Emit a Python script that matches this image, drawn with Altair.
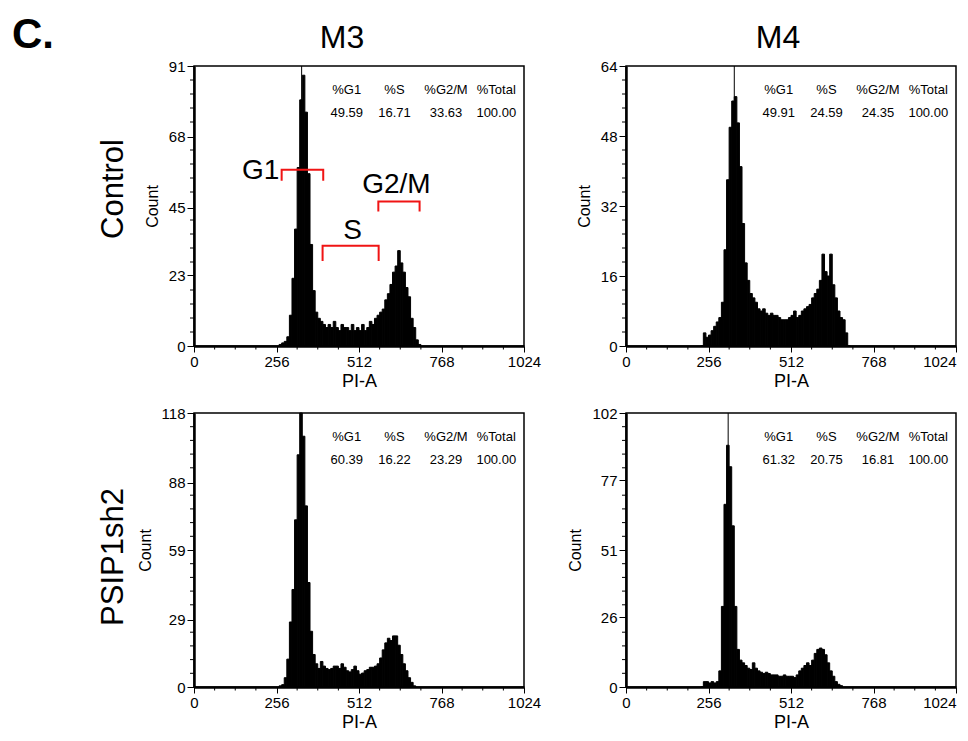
import altair as alt
import pandas as pd

FONT = "Liberation Sans"
W = 330
H_TOP, H_BOTTOM = 280, 274
BIN = 8

# ---------------- shared axis / annotation arrays ----------------
x_tick_values = [0, 256, 512, 768, 1024]
x_minor_ticks = [64, 128, 192, 320, 384, 448, 576, 640, 704, 832, 896, 960]
stat_headers = ["%G1", "%S", "%G2/M", "%Total"]
stat_x = [474, 622, 782, 938]
col_titles = ["M3", "M4"]
row_titles = ["Control", "PSIP1sh2"]

# ---------------- Control / M3 ----------------
tl_start = 264
tl_counts = [0.5, 1, 1.5, 3, 10, 22, 38, 58, 80, 88, 76, 56, 33, 18, 11, 9, 8, 7, 6, 7,
             6, 8, 6, 5, 7, 6, 6, 5, 7, 5, 6, 5, 7, 5, 6, 8, 7, 9, 10, 11,
             12, 15, 17, 20, 24, 26, 31, 27, 24, 19, 16, 9, 6, 2, 0.5]
tl_ymax = 91
tl_yticks = [0, 23, 45, 68, 91]
tl_peak = 334
tl_stats = ["49.59", "16.71", "33.63", "100.00"]

# ---------------- Control / M4 ----------------
tr_start = 232
tr_counts = [0, 3, 2, 2.5, 3.5, 4.5, 5.5, 6.5, 10, 22, 38, 50, 56, 57, 51, 41, 28, 19, 15, 12,
             11, 10, 8.5, 8, 8.5, 7.5, 7, 7.5, 7, 7, 6.5, 6, 6, 6, 6.5, 7, 8, 6.5, 7, 8,
             8.5, 9, 9.5, 11, 12, 13, 15, 21, 17, 16, 21, 14, 11, 8, 6.5, 6, 3, 0]
tr_ymax = 64
tr_yticks = [0, 16, 32, 48, 64]
tr_peak = 336
tr_stats = ["49.91", "24.59", "24.35", "100.00"]

# ---------------- PSIP1sh2 / M3 ----------------
bl_start = 264
bl_counts = [0.5, 1, 4, 12, 28, 42, 72, 100, 118, 108, 78, 45, 24, 14, 10, 8, 11, 9, 8, 7.5,
             8, 9, 9, 8, 10, 8.5, 7, 6.5, 7.5, 9, 7, 5.5, 6, 7, 7.5, 8.5, 8.5, 9, 10, 12.5,
             16, 19, 21, 20, 22, 22, 18, 14, 10, 7, 4, 2, 0.5]
bl_ymax = 118
bl_yticks = [0, 29, 59, 88, 118]
bl_peak = 332
bl_stats = ["60.39", "16.22", "23.29", "100.00"]

# ---------------- PSIP1sh2 / M4 ----------------
br_start = 232
br_counts = [0, 2, 2, 1.5, 2, 1.5, 2, 6, 30, 68, 90, 82, 60, 30, 14, 10, 9, 8, 7, 6.5,
             9, 7, 6, 5.5, 5, 5.5, 5, 4.5, 4.5, 4.5, 4, 4, 4.5, 4, 4, 4, 3.5, 4.5, 6, 7,
             8, 9, 8, 10, 12.5, 14, 14.5, 14, 12, 9, 6, 4, 2, 1, 0.5]
br_ymax = 102
br_yticks = [0, 26, 51, 77, 102]
br_peak = 317
br_stats = ["61.32", "20.75", "16.81", "100.00"]

# ---------------- gate brackets (Control / M3) ----------------
bracket_names = ["G1", "S", "G2/M"]
bracket_left = [272, 399, 572]
bracket_right = [401, 573, 700]
bracket_top = [57.3, 32.6, 47.0]
bracket_bottom = [53.7, 27.6, 43.7]
bracket_label_x = [207, 492, 628]
bracket_label_y = [56.8, 37.5, 52.2]


def text_layer(txt, x, y, size, weight="normal", angle=0, align="center", baseline="alphabetic"):
    return alt.Chart(pd.DataFrame({"t": [txt]})).mark_text(
        font=FONT, fontSize=size, fontWeight=weight, angle=angle, align=align,
        baseline=baseline, color="black"
    ).encode(x=alt.value(x), y=alt.value(y), text="t:N")


def panel(start, counts, ymax, yticks, peak, stats, H, right_col=False, extra_layers=()):
    xs = alt.Scale(domain=[0, 1024], nice=False, zero=False)
    ys = alt.Scale(domain=[0, ymax], nice=False, zero=True)
    xax_kw = dict(values=x_tick_values, tickSize=6, labelFlush=False, labelPadding=2,
                  labelFontSize=15, titleFontSize=18, titlePadding=3, format="d")
    if right_col:
        xax_kw["labelAlign"] = {"condition": {"test": "datum.value >= 1024", "value": "right"},
                                "value": "center"}
    xax = alt.Axis(**xax_kw)
    yax = alt.Axis(values=yticks, tickSize=7, labelPadding=2, labelFontSize=15,
                   titleFontSize=16, titlePadding=8, format="d")

    hist = pd.DataFrame({
        "pi": [start + BIN * i for i in range(len(counts))],
        "pi2": [start + BIN * (i + 1) for i in range(len(counts))],
        "count": counts,
    })
    bars = alt.Chart(hist).mark_rect(color="black", stroke="black", strokeWidth=1).encode(
        x=alt.X("pi:Q", scale=xs, axis=xax, title="PI-A"),
        x2="pi2:Q",
        y=alt.Y("count:Q", scale=ys, axis=yax, title="Count"),
        y2=alt.datum(0),
    )
    pk = alt.Chart(pd.DataFrame({"pi": [peak], "count": [ymax]})).mark_rule(
        color="black", strokeWidth=1
    ).encode(x=alt.X("pi:Q", title="PI-A"), y=alt.Y("count:Q", title="Count"), y2=alt.datum(0))

    xminor = alt.Chart(pd.DataFrame({"pi": x_minor_ticks})).mark_rule(
        color="black", strokeWidth=1
    ).encode(x=alt.X("pi:Q", title="PI-A"), y=alt.value(H), y2=alt.value(H + 3.5))
    yminor_vals = [ymax * k / 20 for k in range(1, 20) if k % 5]
    yminor = alt.Chart(pd.DataFrame({"count": yminor_vals})).mark_rule(
        color="black", strokeWidth=1
    ).encode(y=alt.Y("count:Q", title="Count"), x=alt.value(0), x2=alt.value(-4))

    sd = pd.DataFrame({"pi": stat_x, "h": stat_headers, "v": stats})
    hdr = alt.Chart(sd).mark_text(font=FONT, fontSize=13, color="black").encode(
        x=alt.X("pi:Q", title="PI-A"), y=alt.value(24), text="h:N")
    val = alt.Chart(sd).mark_text(font=FONT, fontSize=13, color="black").encode(
        x=alt.X("pi:Q", title="PI-A"), y=alt.value(47), text="v:N")

    return alt.layer(bars, pk, xminor, yminor, hdr, val, *extra_layers).properties(width=W, height=H)


# brackets
pts = []
for i, n in enumerate(bracket_names):
    pts += [
        {"gate": n, "o": 0, "pi": bracket_left[i], "count": bracket_bottom[i]},
        {"gate": n, "o": 1, "pi": bracket_left[i], "count": bracket_top[i]},
        {"gate": n, "o": 2, "pi": bracket_right[i], "count": bracket_top[i]},
        {"gate": n, "o": 3, "pi": bracket_right[i], "count": bracket_bottom[i]},
    ]
brackets = alt.Chart(pd.DataFrame(pts)).mark_line(color="#f01414", strokeWidth=2).encode(
    x=alt.X("pi:Q", title="PI-A"), y=alt.Y("count:Q", title="Count"),
    detail="gate:N", order="o:Q")
bracket_labels = alt.Chart(pd.DataFrame({
    "pi": bracket_label_x, "count": bracket_label_y, "t": bracket_names})).mark_text(
    font=FONT, fontSize=28, color="black", baseline="middle").encode(
    x=alt.X("pi:Q", title="PI-A"), y=alt.Y("count:Q", title="Count"), text="t:N")

tl = panel(tl_start, tl_counts, tl_ymax, tl_yticks, tl_peak, tl_stats, H_TOP, extra_layers=(
    brackets, bracket_labels,
    text_layer("C.", -182, -18, 42, weight="bold", align="left"),
    text_layer(col_titles[0], 148, -18, 32),
    text_layer(row_titles[0], -80, 123, 31, angle=270, baseline="middle"),
))
tr = panel(tr_start, tr_counts, tr_ymax, tr_yticks, tr_peak, tr_stats, H_TOP, right_col=True,
           extra_layers=(text_layer(col_titles[1], 152, -18, 32),))
bl = panel(bl_start, bl_counts, bl_ymax, bl_yticks, bl_peak, bl_stats, H_BOTTOM, extra_layers=(
    text_layer(row_titles[1], -80, 144, 31, angle=270, baseline="middle"),
))
br = panel(br_start, br_counts, br_ymax, br_yticks, br_peak, br_stats, H_BOTTOM, right_col=True)

chart = alt.concat(tl, tr, bl, br, columns=2, spacing={"row": 14, "column": 25}).properties(
    padding={"left": 3, "top": 5, "right": 0, "bottom": 0}
).configure_view(stroke="black", strokeWidth=1.5).configure_axis(
    domainColor="black", domainWidth=2.5, tickColor="black", tickWidth=1,
    labelColor="black", titleColor="black", labelFont=FONT, titleFont=FONT,
    titleFontWeight="normal", grid=False
)

chart.save("out.html", embed_options={"renderer": "svg", "actions": False})
